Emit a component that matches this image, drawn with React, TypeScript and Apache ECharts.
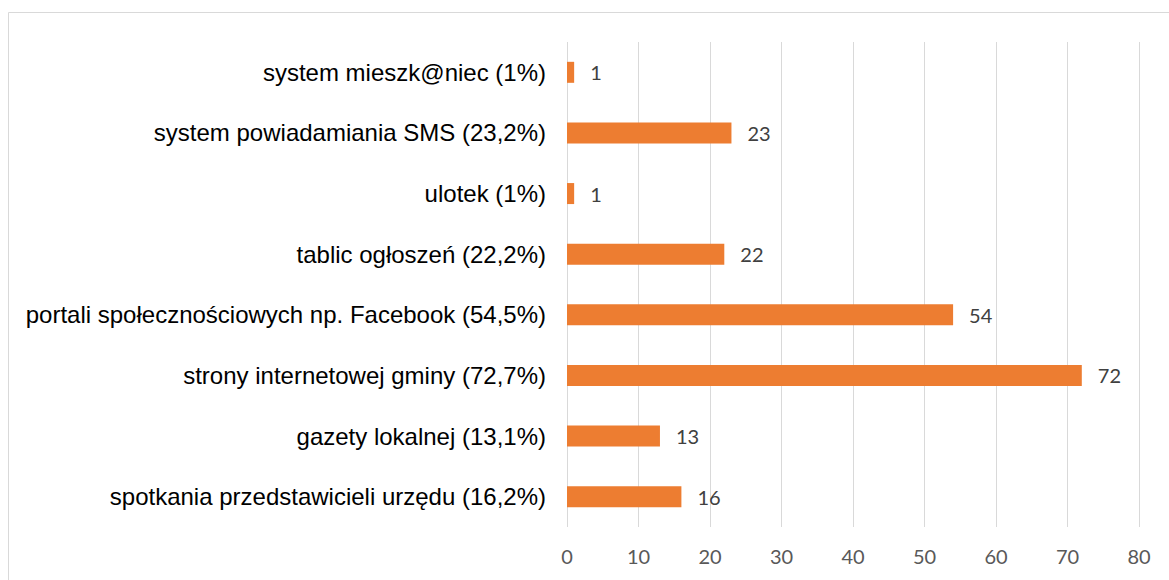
import React, { useEffect, useRef } from "react";
import * as echarts from "echarts";

const categories = [
  "system mieszk@niec (1%)",
  "system powiadamiania SMS (23,2%)",
  "ulotek (1%)",
  "tablic ogłoszeń (22,2%)",
  "portali społecznościowych np. Facebook (54,5%)",
  "strony internetowej gminy (72,7%)",
  "gazety lokalnej (13,1%)",
  "spotkania przedstawicieli urzędu (16,2%)",
];
const values = [1, 23, 1, 22, 54, 72, 13, 16];
const xMin = 0;
const xMax = 80;
const xInterval = 10;

export default function App() {
  const ref = useRef<HTMLDivElement>(null);
  useEffect(() => {
    document.body.style.margin = "0";
    document.body.style.overflow = "hidden";
    const chart = echarts.init(ref.current!, null, { renderer: "svg" });
    chart.setOption({
      animation: false,
      backgroundColor: "#ffffff",
      graphic: [
        {
          type: "rect",
          shape: { x: 8.5, y: 12.5, width: 1300, height: 700 },
          style: { fill: "none", stroke: "#D9D9D9", lineWidth: 1 },
          silent: true,
        },
      ],
      grid: { left: 567, right: 30, top: 42, bottom: 53, containLabel: false },
      xAxis: {
        type: "value",
        min: xMin,
        max: xMax,
        interval: xInterval,
        axisLine: { show: false },
        axisTick: { show: false },
        splitLine: { show: true, lineStyle: { color: "#D9D9D9", width: 1 } },
        axisLabel: {
          color: "#595959",
          fontFamily: "Lato, 'Open Sans', sans-serif",
          fontSize: 20,
          margin: 19,
        },
      },
      yAxis: {
        type: "category",
        inverse: true,
        data: categories,
        axisLine: { show: false },
        axisTick: { show: false },
        splitLine: { show: false },
        axisLabel: {
          color: "#000000",
          fontFamily: "'Liberation Sans', Arial, sans-serif",
          fontSize: 24,
          margin: 21,
        },
      },
      series: [
        {
          type: "bar",
          data: values,
          barWidth: 21,
          itemStyle: { color: "#ED7D31" },
          label: {
            show: true,
            position: "right",
            distance: 16,
            color: "#404040",
            fontFamily: "Lato, 'Open Sans', sans-serif",
            fontSize: 20,
          },
        },
      ],
    });
    return () => chart.dispose();
  }, []);
  return <div ref={ref} style={{ width: 1169, height: 580 }} />;
}
